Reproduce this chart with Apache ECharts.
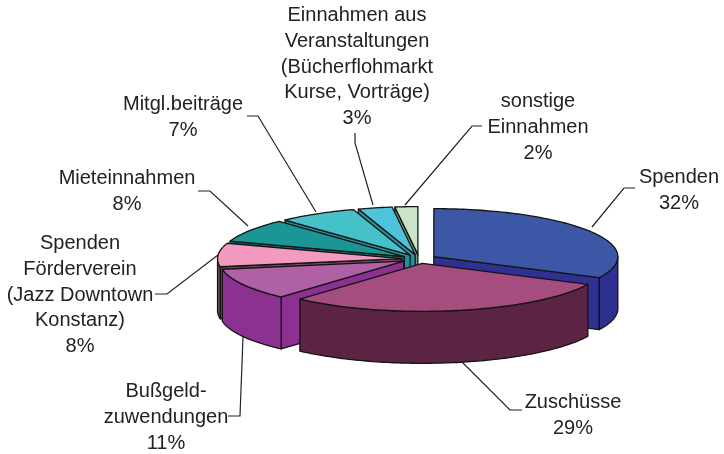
<!DOCTYPE html>
<html lang="de">
<head>
<meta charset="UTF-8">
<title>Einnahmen</title>
<style>
  html, body { margin: 0; padding: 0; background: #fff; }
  #main { width: 724px; height: 454px; }
</style>
</head>
<body>
<div id="main"></div>
<script src="https://cdn.jsdelivr.net/npm/echarts@6/dist/echarts.min.js"></script>
<script>
// data, clockwise from 12 o'clock
var categories = [
  'Spenden',
  'Zuschüsse',
  'Bußgeld-\nzuwendungen',
  'Spenden\nFörderverein\n(Jazz Downtown\nKonstanz)',
  'Mieteinnahmen',
  'Mitgl.beiträge',
  'Einnahmen aus\nVeranstaltungen\n(Bücherflohmarkt\nKurse, Vorträge)',
  'sonstige\nEinnahmen'
];
var shares = [32.2, 29.4, 10.7, 7.9, 7.9, 6.9, 3, 2];

// styles
var topColors  = ['#3b57a5', '#a64d80', '#b060a4', '#f49ac1', '#1a9696', '#45c1c9', '#4dc4dc', '#c9e4c8'];
var sideColors = ['#2e3192', '#5c2444', '#8a3192', '#7a4c60', '#0f6e6e', '#258f96', '#2c8ea0', '#6f9a78'];
var edgeColor = '#141414';

// pie geometry
var cx = 419, cy = 259;      // pie centre
var rx = 184, ry = 48;       // ellipse of the top face
var ex = 17.5, ey = 4.4;     // explosion
var depth = 52;

// layout of the labels: text centre, first line y, leader polyline
var labelX = [679, 573, 166, 80, 127, 183, 357, 538];
var labelY = [178, 403, 392, 244, 179, 105, 16, 102];
var leaders = [
  [[592, 227], [624, 188], [635, 188]],
  [[462, 362], [510, 410], [522, 410]],
  [[243, 337], [240, 416], [228, 416]],
  [[218, 255], [167, 294], [155, 294]],
  [[248, 226], [210, 191], [198, 191]],
  [[316, 212], [258, 116], [247, 116]],
  [[373, 205], [355, 143], [355, 133]],
  [[405, 205], [472, 126], [482, 126]]
];

// back slices first, the front ones paint over them
var drawOrder = [7, 6, 5, 4, 3, 0, 2, 1];

var total = shares.reduce(function (a, b) { return a + b; }, 0);
var starts = [];
shares.reduce(function (acc, v, i) { starts[i] = acc; return acc + v; }, 0);

function toRad(v) { return v / total * Math.PI * 2; }

function rim(ax, ay, t) {
  return [ax + rx * Math.sin(t), ay - ry * Math.cos(t)];
}

function arc(ax, ay, t0, t1, dy) {
  var pts = [];
  var n = Math.max(2, Math.ceil((t1 - t0) / 0.02));
  for (var i = 0; i <= n; i++) {
    var p = rim(ax, ay, t0 + (t1 - t0) * i / n);
    pts.push([p[0], p[1] + dy]);
  }
  return pts;
}

function poly(pts, fill) {
  return {
    type: 'polygon',
    shape: { points: pts },
    style: { fill: fill, stroke: edgeColor, lineWidth: 1.3, lineJoin: 'round' }
  };
}

function radialWall(ax, ay, t, fill) {
  var p = rim(ax, ay, t);
  return poly([[ax, ay], p, [p[0], p[1] + depth], [ax, ay + depth]], fill);
}

function renderSlice(params, api) {
  var i = api.value(0);
  var t0 = toRad(starts[i]);
  var t1 = t0 + toRad(api.value(1));
  var mid = (t0 + t1) / 2;
  var ax = cx + ex * Math.sin(mid);
  var ay = cy - ey * Math.cos(mid);
  var children = [];
  var side = sideColors[i];

  // walls that face the viewer
  if (t0 > Math.PI && t0 < Math.PI * 2) children.push(radialWall(ax, ay, t0, side));
  if (t1 > 0 && t1 < Math.PI) children.push(radialWall(ax, ay, t1, side));
  var w0 = Math.max(t0, Math.PI / 2), w1 = Math.min(t1, Math.PI * 1.5);
  if (w1 > w0) {
    children.push(poly(arc(ax, ay, w0, w1, 0).concat(arc(ax, ay, w0, w1, depth).reverse()), side));
  }
  // top face
  children.push(poly([[ax, ay]].concat(arc(ax, ay, t0, t1, 0)), topColors[i]));
  return { type: 'group', children: children };
}

function renderLabel(params, api) {
  var i = api.value(0);
  return {
    type: 'group',
    children: [
      {
        type: 'polyline',
        shape: { points: leaders[i] },
        style: { fill: null, stroke: '#222', lineWidth: 1.2 }
      },
      {
        type: 'text',
        style: {
          text: categories[i] + '\n' + Math.round(api.value(1)) + '%',
          x: labelX[i],
          y: labelY[i] - 13,
          align: 'center',
          verticalAlign: 'top',
          fill: '#222',
          font: '20px "Liberation Sans", Arial, sans-serif',
          lineHeight: 25.6
        }
      }
    ]
  };
}

var myChart = echarts.init(document.getElementById('main'), null, { renderer: 'canvas' });
var option = {
  backgroundColor: '#fff',
  animation: false,
  series: [
    {
      type: 'custom',
      coordinateSystem: 'none',
      renderItem: renderLabel,
      silent: true,
      data: shares.map(function (v, i) { return [i, v]; })
    },
    {
      type: 'custom',
      coordinateSystem: 'none',
      renderItem: renderSlice,
      silent: true,
      data: drawOrder.map(function (i) { return [i, shares[i]]; })
    }
  ]
};
myChart.setOption(option);
</script>
</body>
</html>
